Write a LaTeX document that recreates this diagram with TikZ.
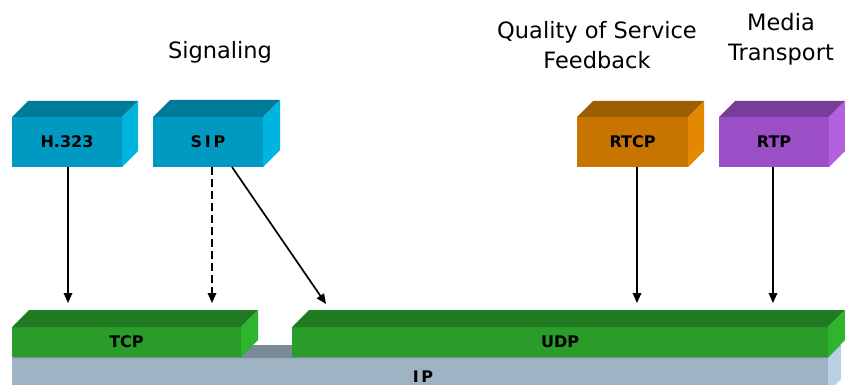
\documentclass[tikz,border=0pt]{standalone}
\usepackage{fontspec}
\setmainfont{DejaVu Sans}
\usetikzlibrary{arrows.meta}

% face colours: front / top / side
\definecolor{blueF}{HTML}{0099C2}
\definecolor{blueT}{HTML}{007A99}
\definecolor{blueS}{HTML}{00B4E0}
\definecolor{orangeF}{HTML}{C87400}
\definecolor{orangeT}{HTML}{9C5E00}
\definecolor{orangeS}{HTML}{E38800}
\definecolor{purpleF}{HTML}{9B4FC7}
\definecolor{purpleT}{HTML}{7A3C9A}
\definecolor{purpleS}{HTML}{B560E0}
\definecolor{greenF}{HTML}{299C2A}
\definecolor{greenT}{HTML}{1F7A21}
\definecolor{greenS}{HTML}{2DB52E}
\definecolor{ipF}{HTML}{9EB4C4}
\definecolor{ipT}{HTML}{7A8A96}
\definecolor{ipS}{HTML}{B8D2E2}

\tikzset{
  boxlabel/.style={inner sep=0pt, font=\fontsize{16}{18}\selectfont\bfseries, text=black},
  heading/.style={font=\fontsize{22.5}{30}\selectfont, align=center, text=black},
  link/.style={line width=1.7pt, -{Triangle[length=10pt,width=8.5pt]}},
}

% 3-D block: name, x1, y1, x2, y2 (front face), depth, front, top, side
\newcommand\solidblock[9]{%
  \fill[#7] (#2,#3) rectangle (#4,#5);
  \fill[#8] (#2,#3) -- (#2+#6,#3-#6) -- (#4+#6,#3-#6) -- (#4,#3) -- cycle;
  \fill[#9] (#4,#3) -- (#4+#6,#3-#6) -- (#4+#6,#5-#6) -- (#4,#5) -- cycle;
  \node[inner sep=0pt, minimum width={(#4-#2)*1pt}, minimum height={(#5-#3)*1pt}]
    (#1) at ({(#2+#4)/2},{(#3+#5)/2}) {};
}

\begin{document}
\begin{tikzpicture}[x=1pt,y=-1pt]
\useasboundingbox (0,0) rectangle (845,385);

% network layer
\solidblock{ip}{12}{358}{828}{392}{13}{ipF}{ipT}{ipS}
\node[boxlabel] at (423,377) {I\,P};

% transport layer
\solidblock{tcp}{12}{327}{241}{357}{17}{greenF}{greenT}{greenS}
\node[boxlabel] at (tcp) {TCP};
\solidblock{udp}{292}{327}{828}{357}{17}{greenF}{greenT}{greenS}
\node[boxlabel] at (udp) {UDP};

% application protocols
\solidblock{h323}{12}{117}{122}{167}{16}{blueF}{blueT}{blueS}
\node[boxlabel] at (h323) {H.323};
\solidblock{sip}{153}{117}{263}{167}{17}{blueF}{blueT}{blueS}
\node[boxlabel] at (sip) {S\,I\,P};
\solidblock{rtcp}{577}{117}{688}{167}{16}{orangeF}{orangeT}{orangeS}
\node[boxlabel] at (rtcp) {RTCP};
\solidblock{rtp}{719}{117}{829}{167}{16}{purpleF}{purpleT}{purpleS}
\node[boxlabel] at (rtp) {RTP};

% headings
\node[heading] (sig) at (220,52) {Signaling};
\node[heading] (qos) at (597,45) {Quality of Service\\Feedback};
\node[heading] (media) at (781,39) {Media\\Transport};

% arrow end points above the transport blocks
\coordinate (tcpA) at (68,303);
\coordinate (tcpB) at (212,303);
\coordinate (udpA) at (326,304);
\coordinate (udpB) at (637,303);
\coordinate (udpC) at (773,303);

\draw[link] (h323.south -| tcpA) -- (tcpA);
\draw[link, dash pattern=on 8pt off 4pt] (sip.south -| tcpB) -- (tcpB);
\draw[link] (232,167) -- (udpA);
\draw[link] (rtcp.south -| udpB) -- (udpB);
\draw[link] (rtp.south -| udpC) -- (udpC);
\end{tikzpicture}
\end{document}
